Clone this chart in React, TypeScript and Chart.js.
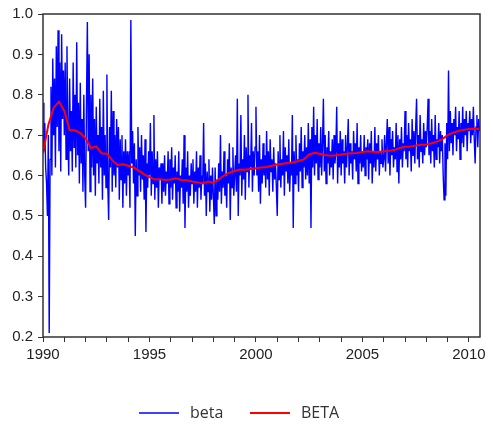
import { useEffect, useRef } from "react";
import { Chart, registerables } from "chart.js";

Chart.register(...registerables);

// ---- axis / category settings ----
const startYear = 1990;
const endYear = 2010.52;
const betaPerYear = 24; // half-monthly observations
const trendPerYear = 4; // quarterly trend points
const xLabelYears = [1990, 1995, 2000, 2005, 2010];
const yMin = 0.2;
const yMax = 1.0;
const yStep = 0.1;
const seriesNames = ["beta", "BETA"];

// ---- beta (noisy series), one small array per year ----
const beta1990 = [0.78, 0.66, 0.73, 0.62, 0.58, 0.5, 0.7, 0.21, 0.64, 0.82, 0.6, 0.89, 0.7, 0.84, 0.62, 0.92, 0.72, 0.96, 0.66, 0.88, 0.61, 0.95, 0.74, 0.86];
const beta1991 = [0.7, 0.88, 0.64, 0.92, 0.71, 0.6, 0.84, 0.66, 0.76, 0.61, 0.88, 0.67, 0.8, 0.62, 0.93, 0.65, 0.78, 0.58, 0.83, 0.63, 0.74, 0.56, 0.8, 0.6];
const beta1992 = [0.52, 0.78, 0.98, 0.66, 0.9, 0.56, 0.8, 0.62, 0.84, 0.6, 0.74, 0.55, 0.77, 0.63, 0.7, 0.58, 0.79, 0.62, 0.72, 0.54, 0.81, 0.6, 0.7, 0.57];
const beta1993 = [0.85, 0.58, 0.49, 0.72, 0.62, 0.81, 0.56, 0.76, 0.6, 0.7, 0.57, 0.74, 0.62, 0.72, 0.54, 0.69, 0.59, 0.7, 0.52, 0.66, 0.58, 0.69, 0.55, 0.66];
const beta1994 = [0.6, 0.66, 0.52, 0.985, 0.63, 0.71, 0.58, 0.68, 0.45, 0.64, 0.55, 0.72, 0.6, 0.67, 0.56, 0.7, 0.59, 0.65, 0.54, 0.69, 0.46, 0.63, 0.57, 0.66];
const beta1995 = [0.6, 0.73, 0.55, 0.66, 0.58, 0.75, 0.54, 0.64, 0.57, 0.66, 0.52, 0.62, 0.59, 0.63, 0.53, 0.63, 0.56, 0.65, 0.55, 0.61, 0.58, 0.66, 0.53, 0.64];
const beta1996 = [0.57, 0.67, 0.54, 0.62, 0.58, 0.65, 0.52, 0.61, 0.56, 0.66, 0.51, 0.6, 0.57, 0.64, 0.53, 0.7, 0.47, 0.62, 0.56, 0.66, 0.52, 0.6, 0.55, 0.63];
const beta1997 = [0.58, 0.64, 0.53, 0.61, 0.56, 0.66, 0.52, 0.62, 0.57, 0.65, 0.54, 0.6, 0.58, 0.73, 0.55, 0.63, 0.5, 0.61, 0.56, 0.64, 0.51, 0.6, 0.54, 0.62];
const beta1998 = [0.55, 0.48, 0.62, 0.5, 0.59, 0.54, 0.63, 0.56, 0.7, 0.53, 0.61, 0.57, 0.66, 0.55, 0.6, 0.52, 0.64, 0.58, 0.68, 0.49, 0.62, 0.57, 0.67, 0.55];
const beta1999 = [0.6, 0.65, 0.56, 0.79, 0.5, 0.63, 0.6, 0.75, 0.55, 0.64, 0.59, 0.7, 0.54, 0.67, 0.61, 0.8, 0.57, 0.65, 0.62, 0.73, 0.56, 0.66, 0.6, 0.67];
const beta2000 = [0.77, 0.6, 0.66, 0.56, 0.7, 0.53, 0.64, 0.58, 0.68, 0.6, 0.65, 0.57, 0.71, 0.59, 0.66, 0.55, 0.69, 0.61, 0.64, 0.56, 0.67, 0.59, 0.63, 0.57];
const beta2001 = [0.5, 0.66, 0.59, 0.7, 0.57, 0.64, 0.6, 0.71, 0.55, 0.67, 0.61, 0.65, 0.58, 0.69, 0.56, 0.63, 0.6, 0.75, 0.47, 0.66, 0.58, 0.7, 0.6, 0.64];
const beta2002 = [0.56, 0.68, 0.61, 0.72, 0.57, 0.66, 0.62, 0.7, 0.59, 0.67, 0.6, 0.73, 0.58, 0.69, 0.47, 0.72, 0.62, 0.77, 0.6, 0.7, 0.63, 0.74, 0.59, 0.68];
const beta2003 = [0.62, 0.72, 0.6, 0.68, 0.79, 0.61, 0.7, 0.58, 0.67, 0.63, 0.71, 0.6, 0.66, 0.62, 0.69, 0.59, 0.7, 0.63, 0.66, 0.77, 0.58, 0.68, 0.62, 0.71];
const beta2004 = [0.6, 0.69, 0.63, 0.66, 0.58, 0.7, 0.62, 0.67, 0.74, 0.6, 0.68, 0.63, 0.66, 0.59, 0.71, 0.64, 0.68, 0.61, 0.73, 0.58, 0.67, 0.63, 0.7, 0.61];
const beta2005 = [0.66, 0.62, 0.7, 0.6, 0.67, 0.64, 0.69, 0.59, 0.68, 0.63, 0.71, 0.58, 0.66, 0.62, 0.72, 0.61, 0.68, 0.64, 0.7, 0.6, 0.66, 0.63, 0.69, 0.62];
const beta2006 = [0.64, 0.7, 0.61, 0.68, 0.74, 0.63, 0.72, 0.6, 0.69, 0.65, 0.71, 0.62, 0.67, 0.64, 0.73, 0.61, 0.7, 0.58, 0.69, 0.64, 0.72, 0.62, 0.68, 0.66];
const beta2007 = [0.76, 0.64, 0.7, 0.62, 0.73, 0.66, 0.69, 0.61, 0.74, 0.65, 0.71, 0.63, 0.72, 0.79, 0.64, 0.7, 0.62, 0.75, 0.66, 0.69, 0.63, 0.73, 0.65, 0.71];
const beta2008 = [0.67, 0.72, 0.79, 0.65, 0.71, 0.63, 0.74, 0.66, 0.7, 0.62, 0.75, 0.64, 0.69, 0.67, 0.73, 0.63, 0.71, 0.66, 0.7, 0.6, 0.54, 0.68, 0.55, 0.73];
const beta2009 = [0.64, 0.86, 0.66, 0.76, 0.68, 0.73, 0.65, 0.74, 0.7, 0.77, 0.66, 0.72, 0.69, 0.76, 0.64, 0.73, 0.68, 0.77, 0.67, 0.74, 0.7, 0.76, 0.66, 0.73];
const beta2010 = [0.71, 0.76, 0.68, 0.74, 0.7, 0.77, 0.69, 0.63, 0.72, 0.75, 0.67, 0.74, 0.71];

const betaValues = [
  ...beta1990, ...beta1991, ...beta1992, ...beta1993, ...beta1994,
  ...beta1995, ...beta1996, ...beta1997, ...beta1998, ...beta1999,
  ...beta2000, ...beta2001, ...beta2002, ...beta2003, ...beta2004,
  ...beta2005, ...beta2006, ...beta2007, ...beta2008, ...beta2009,
  ...beta2010,
];

// ---- BETA (smooth series), quarterly from 1990.00 to 2010.50 ----
const betaTrendValues = [
  0.655, 0.725, 0.768, 0.783, 0.76, 0.712, 0.712, 0.705,
  0.692, 0.668, 0.672, 0.655, 0.654, 0.638, 0.626, 0.628,
  0.624, 0.62, 0.612, 0.603, 0.596, 0.59, 0.591, 0.589,
  0.59, 0.593, 0.589, 0.588, 0.585, 0.583, 0.58, 0.585,
  0.582, 0.59, 0.6, 0.607, 0.611, 0.615, 0.614, 0.616,
  0.618, 0.62, 0.621, 0.624, 0.627, 0.629, 0.631, 0.633,
  0.636, 0.64, 0.652, 0.656, 0.654, 0.651, 0.649, 0.65,
  0.652, 0.654, 0.655, 0.656, 0.658, 0.66, 0.659, 0.658,
  0.66, 0.661, 0.663, 0.668, 0.671, 0.672, 0.674, 0.676,
  0.677, 0.68, 0.684, 0.69, 0.7, 0.706, 0.71, 0.713,
  0.715, 0.716, 0.715,
];

const tickFont = { family: "'Liberation Sans', Arial, sans-serif", size: 15 };
const legendFont = "16px 'Open Sans', 'Noto Sans', sans-serif";
const frameColor = "#333333";

export default function App() {
  const canvasRef = useRef<HTMLCanvasElement | null>(null);

  useEffect(() => {
    document.body.style.margin = "0";
    const canvas = canvasRef.current;
    if (!canvas) return;

    const betaPoints = betaValues.map((v, i) => ({ x: startYear + i / betaPerYear, y: v }));
    const trendPoints = betaTrendValues.map((v, i) => ({ x: startYear + i / trendPerYear, y: v }));

    const framePlugin = {
      id: "frameBox",
      afterDatasetsDraw(chart: any) {
        const { ctx, chartArea: a } = chart;
        ctx.save();
        ctx.strokeStyle = frameColor;
        ctx.lineWidth = 1.5;
        ctx.strokeRect(a.left, a.top, a.right - a.left, a.bottom - a.top);
        ctx.restore();
      },
    };

    const legendPlugin = {
      id: "bottomLegend",
      afterDraw(chart: any) {
        const { ctx } = chart;
        const starts = [139, 250];
        const y = 413;
        ctx.save();
        ctx.font = legendFont;
        ctx.textBaseline = "middle";
        ctx.textAlign = "left";
        chart.data.datasets.forEach((ds: any, i: number) => {
          const x0 = starts[i];
          ctx.strokeStyle = ds.borderColor;
          ctx.lineWidth = i === 0 ? 1.5 : 2;
          ctx.beginPath();
          ctx.moveTo(x0, y);
          ctx.lineTo(x0 + 40, y);
          ctx.stroke();
          ctx.fillStyle = "#333333";
          ctx.fillText(ds.label, x0 + 51, y);
        });
        ctx.restore();
      },
    };

    const chart = new Chart(canvas, {
      type: "line",
      data: {
        datasets: [
          {
            label: seriesNames[0],
            data: betaPoints,
            borderColor: "#0000ff",
            borderWidth: 1.4,
            pointRadius: 0,
            tension: 0,
            order: 1,
          },
          {
            label: seriesNames[1],
            data: trendPoints,
            borderColor: "#ff0000",
            borderWidth: 2,
            pointRadius: 0,
            tension: 0,
            order: 0,
          },
        ],
      },
      options: {
        animation: false,
        responsive: true,
        maintainAspectRatio: false,
        layout: { padding: { top: 12, right: 13, bottom: 59, left: 0 } },
        plugins: {
          legend: { display: false },
          tooltip: { enabled: false },
        },
        scales: {
          x: {
            type: "linear",
            min: startYear,
            max: endYear,
            border: { display: false },
            grid: {
              display: true,
              drawOnChartArea: false,
              drawTicks: true,
              tickLength: 5,
              color: frameColor,
              lineWidth: 1,
            },
            ticks: {
              stepSize: 1,
              autoSkip: false,
              includeBounds: false,
              maxRotation: 0,
              padding: 4,
              color: "#222222",
              font: tickFont,
              callback: (v: any) => {
                const r = Math.round(Number(v));
                return Math.abs(Number(v) - r) < 1e-6 && xLabelYears.includes(r) ? String(r) : "";
              },
            },
            afterFit: (s: any) => {
              s.height = 30;
            },
          },
          y: {
            min: yMin,
            max: yMax,
            border: { display: false },
            grid: {
              display: true,
              drawOnChartArea: false,
              drawTicks: true,
              tickLength: 5,
              color: frameColor,
              lineWidth: 1,
            },
            ticks: {
              stepSize: yStep,
              padding: 5,
              color: "#222222",
              font: tickFont,
              callback: (v: any) => Number(v).toFixed(1),
            },
            afterFit: (s: any) => {
              s.width = 43;
            },
          },
        },
      },
      plugins: [framePlugin, legendPlugin],
    });

    return () => chart.destroy();
  }, []);

  return (
    <div style={{ width: 493, height: 426, position: "relative" }}>
      <canvas ref={canvasRef} />
    </div>
  );
}
